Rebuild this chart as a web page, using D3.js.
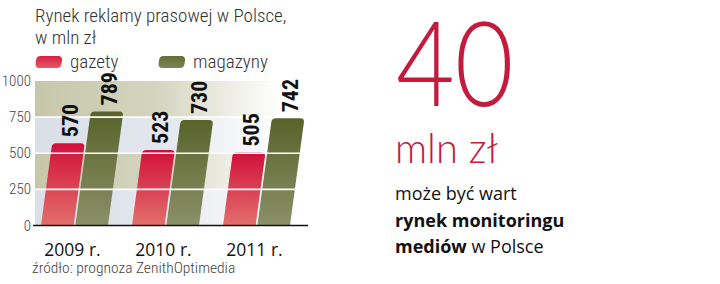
<!DOCTYPE html>
<html>
<meta charset="utf-8">
<title>Rynek reklamy prasowej</title>
<style>
  body { margin: 0; background: #fff; }
</style>
<body>
<div id="chart"></div>
<script src="https://cdn.jsdelivr.net/npm/d3@7"></script>
<script>
// dane
var years = ["2009 r.", "2010 r.", "2011 r."];
var series = ["gazety", "magazyny"];
var gazety = [570, 523, 505];
var magazyny = [789, 730, 742];
var yTicks = [0, 250, 500, 750, 1000];

var svg = d3.select("#chart").append("svg")
  .attr("width", 720)
  .attr("height", 284);

var defs = svg.append("defs");

function vGrad(id, c1, c2) {
  var g = defs.append("linearGradient").attr("id", id)
    .attr("x1", 0).attr("y1", 0).attr("x2", 0).attr("y2", 1);
  g.append("stop").attr("offset", "0%").attr("stop-color", c1);
  g.append("stop").attr("offset", "100%").attr("stop-color", c2);
}
function hGrad(id, c) {
  var g = defs.append("linearGradient").attr("id", id)
    .attr("x1", 0).attr("y1", 0).attr("x2", 1).attr("y2", 0);
  g.append("stop").attr("offset", "0%").attr("stop-color", c);
  g.append("stop").attr("offset", "45%").attr("stop-color", c).attr("stop-opacity", 0.75);
  g.append("stop").attr("offset", "90%").attr("stop-color", c).attr("stop-opacity", 0);
}
vGrad("gRed", "#d20f3a", "#e2706c");
vGrad("gGreen", "#59632a", "#8b9068");
vGrad("lRed", "#d8203f", "#e5586a");
vGrad("lGreen", "#646d36", "#7d855a");
hGrad("bandTan", "#c6c7aa");
hGrad("bandBlue", "#d9dee7");

var pLeft = 35, pRight = 308, pBase = 225.5, pTop = 81;
var slant = 0.135;
var skewDeg = -Math.atan(slant) * 180 / Math.PI;

var y = d3.scaleLinear().domain([0, 1000]).range([pBase, pTop]);
var x0 = d3.scaleBand().domain(years).range([pLeft, pRight])
  .paddingInner(0.264).paddingOuter(0.132).align(0.25);
var x1 = d3.scaleBand().domain(series).range([0, x0.bandwidth()]).paddingInner(0.05);

var narrow = "Roboto Condensed, Liberation Sans Narrow, DejaVu Sans Condensed, sans-serif";

// tytul
svg.append("text")
  .attr("x", 35).attr("y", 22)
  .style("font-family", narrow)
  .style("font-weight", 300)
  .style("font-size", "19px")
  .style("fill", "#333")
  .text("Rynek reklamy prasowej w Polsce,");
svg.append("text")
  .attr("x", 35).attr("y", 44)
  .style("font-family", narrow)
  .style("font-weight", 300)
  .style("font-size", "19px")
  .style("fill", "#333")
  .text("w mln zł");

// legenda
var legend = [
  { name: "gazety", fill: "url(#lRed)", x: 35, tx: 70 },
  { name: "magazyny", fill: "url(#lGreen)", x: 158, tx: 193 }
];
legend.forEach(function (d) {
  svg.append("rect")
    .attr("x", d.x).attr("y", 56).attr("width", 26).attr("height", 12).attr("rx", 4)
    .attr("transform", "translate(0,68) skewX(" + skewDeg + ") translate(0,-68)")
    .attr("fill", d.fill);
  svg.append("text")
    .attr("x", d.tx).attr("y", 68)
    .style("font-family", narrow)
    .style("font-weight", 300)
    .style("font-size", "19px")
    .style("fill", "#333")
    .text(d.name);
});

// tlo - pasy
var bands = d3.pairs(yTicks);
svg.selectAll(".band").data(bands).enter().append("rect")
  .attr("x", pLeft)
  .attr("y", function (d) { return y(d[1]); })
  .attr("width", pRight - pLeft)
  .attr("height", function (d) { return y(d[0]) - y(d[1]); })
  .attr("fill", function (d, i) { return i % 2 ? "url(#bandTan)" : "url(#bandBlue)"; });

// os y
svg.selectAll(".ytick").data(yTicks).enter().append("text")
  .attr("x", 31)
  .attr("y", function (d) { return y(d) + 5; })
  .attr("text-anchor", "end")
  .style("font-family", narrow)
  .style("font-weight", 300)
  .style("font-size", "15px")
  .style("fill", "#444")
  .text(function (d) { return d; });

// slupki
function barPath(x, w, yt, b) {
  var r = 4;
  return "M" + x + "," + b + "V" + (yt + r) + "Q" + x + "," + yt + " " + (x + r) + "," + yt +
    "H" + (x + w - r) + "Q" + (x + w) + "," + yt + " " + (x + w) + "," + (yt + r) + "V" + b + "Z";
}

var rows = years.map(function (yr, i) {
  return { year: yr, values: [
    { key: "gazety", value: gazety[i] },
    { key: "magazyny", value: magazyny[i] }
  ] };
});

var groups = svg.selectAll(".grp").data(rows).enter().append("g")
  .attr("transform", function (d) { return "translate(" + x0(d.year) + ",0)"; });

groups.selectAll("path").data(function (d) { return d.values; }).enter().append("path")
  .attr("d", function (d) { return barPath(x1(d.key), x1.bandwidth(), y(d.value), pBase); })
  .attr("transform", "translate(0," + pBase + ") skewX(" + skewDeg + ") translate(0," + (-pBase) + ")")
  .attr("fill", function (d) { return d.key == "gazety" ? "url(#gRed)" : "url(#gGreen)"; });

// linie siatki (biale, nad slupkami)
svg.selectAll(".grid").data(yTicks.slice(1, 4)).enter().append("line")
  .attr("x1", pLeft).attr("x2", pRight)
  .attr("y1", function (d) { return y(d); }).attr("y2", function (d) { return y(d); })
  .attr("stroke", "#fff").attr("stroke-width", 1.6);

// etykiety wartosci (nad liniami siatki)
var labels = svg.selectAll(".lbls").data(rows).enter().append("g")
  .attr("transform", function (d) { return "translate(" + x0(d.year) + ",0)"; });

labels.selectAll("text").data(function (d) { return d.values; }).enter().append("text")
  .attr("transform", function (d) {
    var ly = y(d.value) - 6;
    var lx = x1(d.key) + x1.bandwidth() / 2 + slant * (pBase - ly) + 1;
    return "translate(" + lx + "," + ly + ") rotate(-90)";
  })
  .attr("dy", "0.36em")
  .style("font-family", narrow)
  .style("font-weight", "bold")
  .style("font-size", "22px")
  .style("fill", "#111")
  .text(function (d) { return d.value; });

// os x
svg.append("line")
  .attr("x1", 33).attr("x2", pRight)
  .attr("y1", pBase).attr("y2", pBase)
  .attr("stroke", "#111").attr("stroke-width", 1.5);

svg.selectAll(".xlab").data(years).enter().append("text")
  .attr("x", function (d) { return x0(d) + x0.bandwidth() / 2 - 2; })
  .attr("y", 256)
  .attr("text-anchor", "middle")
  .style("font-family", "Open Sans, sans-serif")
  .style("font-weight", 500)
  .style("font-size", "17.5px")
  .style("fill", "#111")
  .text(function (d) { return d; });

svg.append("text")
  .attr("x", 32).attr("y", 273)
  .style("font-family", narrow)
  .style("font-weight", 300)
  .style("font-size", "15.5px")
  .style("fill", "#444")
  .text("źródło: prognoza ZenithOptimedia");

// prawa strona
var red = "#c41a3c";
svg.append("text")
  .attr("transform", "translate(396,106) scale(0.86,1)")
  .style("font-family", "Lato, sans-serif")
  .style("font-weight", 300)
  .style("font-size", "118px")
  .style("fill", red)
  .text("40");

svg.append("text")
  .attr("transform", "translate(395,163) scale(0.95,1)")
  .style("font-family", "Lato, sans-serif")
  .style("font-weight", 300)
  .style("font-size", "42px")
  .style("fill", red)
  .text("mln zł");

var info = svg.append("text")
  .attr("x", 395)
  .style("font-family", "Open Sans, sans-serif")
  .style("font-size", "18px")
  .style("fill", "#111");
info.append("tspan").attr("x", 395).attr("y", 200).style("font-weight", 500).text("może być wart");
info.append("tspan").attr("x", 395).attr("y", 227).style("font-weight", 700).text("rynek monitoringu");
info.append("tspan").attr("x", 395).attr("y", 253).style("font-weight", 700).text("mediów");
info.append("tspan").style("font-weight", 500).text(" w Polsce");
</script>
</body>
</html>
